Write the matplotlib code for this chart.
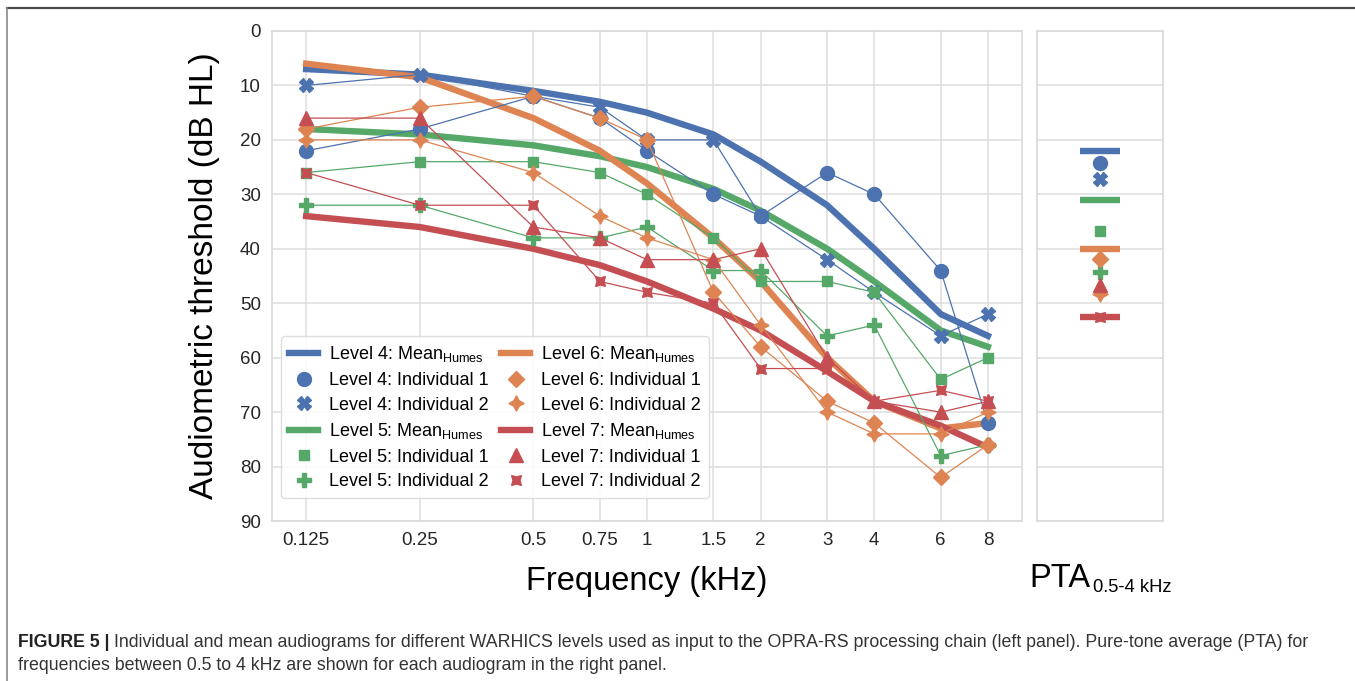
import matplotlib
matplotlib.use('Agg')
import matplotlib.pyplot as plt
from matplotlib.lines import Line2D
from matplotlib.ticker import NullLocator

plt.rcParams['font.family'] = ['Liberation Sans', 'DejaVu Sans']

freqs = [0.125, 0.25, 0.5, 0.75, 1, 1.5, 2, 3, 4, 6, 8]
freq_labels = ['0.125', '0.25', '0.5', '0.75', '1', '1.5', '2', '3', '4', '6', '8']

# audiograms (dB HL)
mean4 = [7, 8, 11, 13, 15, 19, 24, 32, 40, 52, 56]
ind1_4 = [22, 18, 12, 16, 22, 30, 34, 26, 30, 44, 72]
ind2_4 = [10, 8, 12, 14, 20, 20, 34, 42, 48, 56, 52]

mean5 = [18, 19, 21, 23, 25, 29, 33, 40, 46, 55, 58]
ind1_5 = [26, 24, 24, 26, 30, 38, 46, 46, 48, 64, 60]
ind2_5 = [32, 32, 38, 38, 36, 44, 44, 56, 54, 78, 76]

mean6 = [6, 8.5, 16, 22, 28, 38, 46, 60, 68, 73, 72]
ind1_6 = [18, 14, 12, 16, 20, 48, 58, 68, 72, 82, 76]
ind2_6 = [20, 20, 26, 34, 38, 42, 54, 70, 74, 74, 70]

mean7 = [34, 36, 40, 43, 46, 51, 55, 62.5, 68, 72.5, 76.5]
ind1_7 = [16, 16, 36, 38, 42, 42, 40, 60, 68, 70, 68]
ind2_7 = [26, 32, 32, 46, 48, 50, 62, 62, 68, 66, 68]

# pure-tone averages 0.5-4 kHz, levels 4..7
pta_mean = [22, 31, 40, 52.5]
pta_ind1 = [24.2, 36.8, 41.9, 46.6]
pta_ind2 = [27.2, 44.2, 48.3, 52.5]

levels = [4, 5, 6, 7]
colors = ['#4C72B0', '#55A868', '#DD8452', '#C44E52']
means = [mean4, mean5, mean6, mean7]
ind1s = [ind1_4, ind1_5, ind1_6, ind1_7]
ind2s = [ind2_4, ind2_5, ind2_6, ind2_7]
mark1 = [('o', 10), ('s', 7.5), ('D', 8), ('^', 10)]
mark2 = [('X', 10), ('P', 10), ((4, 1, 0), 11), ((4, 1, 45), 10)]

W, H = 1355, 681
fig = plt.figure(figsize=(W / 100, H / 100), dpi=100)
ax = fig.add_axes([272 / W, 1 - 521 / H, 750 / W, 490 / H])
ax_pta = fig.add_axes([1037 / W, 1 - 521 / H, 126 / W, 490 / H])

for a in (ax, ax_pta):
    a.set_facecolor('white')
    for s in a.spines.values():
        s.set_color('#d9d9d9')
        s.set_linewidth(1.2)
    a.set_axisbelow(True)
    a.grid(True, color='#dedede', linewidth=1.1)
    a.set_ylim(90, 0)
    a.set_yticks(range(0, 91, 10))
    a.tick_params(length=0, pad=8, labelsize=13.5, colors='#262626')

handles, labels = [], []
for lv, c, mn, i1, i2, m1, m2 in zip(levels, colors, means, ind1s, ind2s, mark1, mark2):
    ax.plot(freqs, mn, color=c, lw=4.6, zorder=3)
    ax.plot(freqs, i1, color=c, lw=0.9, marker=m1[0], ms=m1[1], zorder=4)
    ax.plot(freqs, i2, color=c, lw=0.9, marker=m2[0], ms=m2[1], zorder=4)
    handles += [Line2D([], [], color=c, lw=4.6),
                Line2D([], [], color=c, ls='none', marker=m1[0], ms=m1[1]),
                Line2D([], [], color=c, ls='none', marker=m2[0], ms=m2[1])]
    labels += ['Level %d: Mean$_{\\mathregular{Humes}}$' % lv,
               'Level %d: Individual 1' % lv,
               'Level %d: Individual 2' % lv]

ax.set_xscale('log')
ax.set_xlim(0.1015, 9.85)
ax.set_xticks(freqs)
ax.set_xticklabels(freq_labels)
ax.xaxis.set_minor_locator(NullLocator())
ax.set_xlabel('Frequency (kHz)', fontsize=23.5, labelpad=12)
ax.set_ylabel('Audiometric threshold (dB HL)', fontsize=24, labelpad=14)

ax.legend(handles, labels, ncol=2, loc='lower left', bbox_to_anchor=(0.012, 0.046),
          fontsize=13, handlelength=1.6, columnspacing=0.7, labelspacing=0.42,
          handletextpad=0.6, borderpad=0.45, borderaxespad=0,
          edgecolor='#d9d9d9', framealpha=0.85)

# right panel: PTA
for c, pm, p1, p2, m1, m2 in zip(colors, pta_mean, pta_ind1, pta_ind2, mark1, mark2):
    ax_pta.plot([1], [pm], color=c, marker='_', ms=29, mew=4.6, ls='none')
    ax_pta.plot([1], [p1], color=c, marker=m1[0], ms=m1[1], ls='none')
    ax_pta.plot([1], [p2], color=c, marker=m2[0], ms=m2[1], ls='none')
ax_pta.set_xlim(0, 2)
ax_pta.set_xticks([])
ax_pta.grid(False, axis='x')
ax_pta.tick_params(labelleft=False)

fig.text(1091 / W, 1 - 587 / H, 'PTA', fontsize=23.5, ha='right', va='baseline')
fig.text(1093 / W, 1 - 592 / H, '0.5-4 kHz', fontsize=13.2, ha='left', va='baseline')

# page frame and caption
fig.add_artist(Line2D([7 / W, 1], [1 - 8 / H, 1 - 8 / H], color='#4a4a4a', lw=1.6))
fig.add_artist(Line2D([7 / W, 7 / W], [0, 1 - 8 / H], color='#8a8a8a', lw=1.2))

cap_size = 12.8
bold = fig.text(18 / W, 1 - 647 / H, 'FIGURE 5 |', fontsize=cap_size, fontweight='bold',
                color='#222222', va='baseline')
r = fig.canvas.get_renderer()
bb = bold.get_window_extent(r)
fig.text((bb.x1 + 4) / W, 1 - 647 / H,
         'Individual and mean audiograms for different WARHICS levels used as input to the '
         'OPRA-RS processing chain (left panel). Pure-tone average (PTA) for',
         fontsize=cap_size, color='#333333', va='baseline')
fig.text(18 / W, 1 - 670 / H,
         'frequencies between 0.5 to 4 kHz are shown for each audiogram in the right panel.',
         fontsize=cap_size, color='#333333', va='baseline')

fig.savefig('out.png', dpi=100, facecolor='white')
